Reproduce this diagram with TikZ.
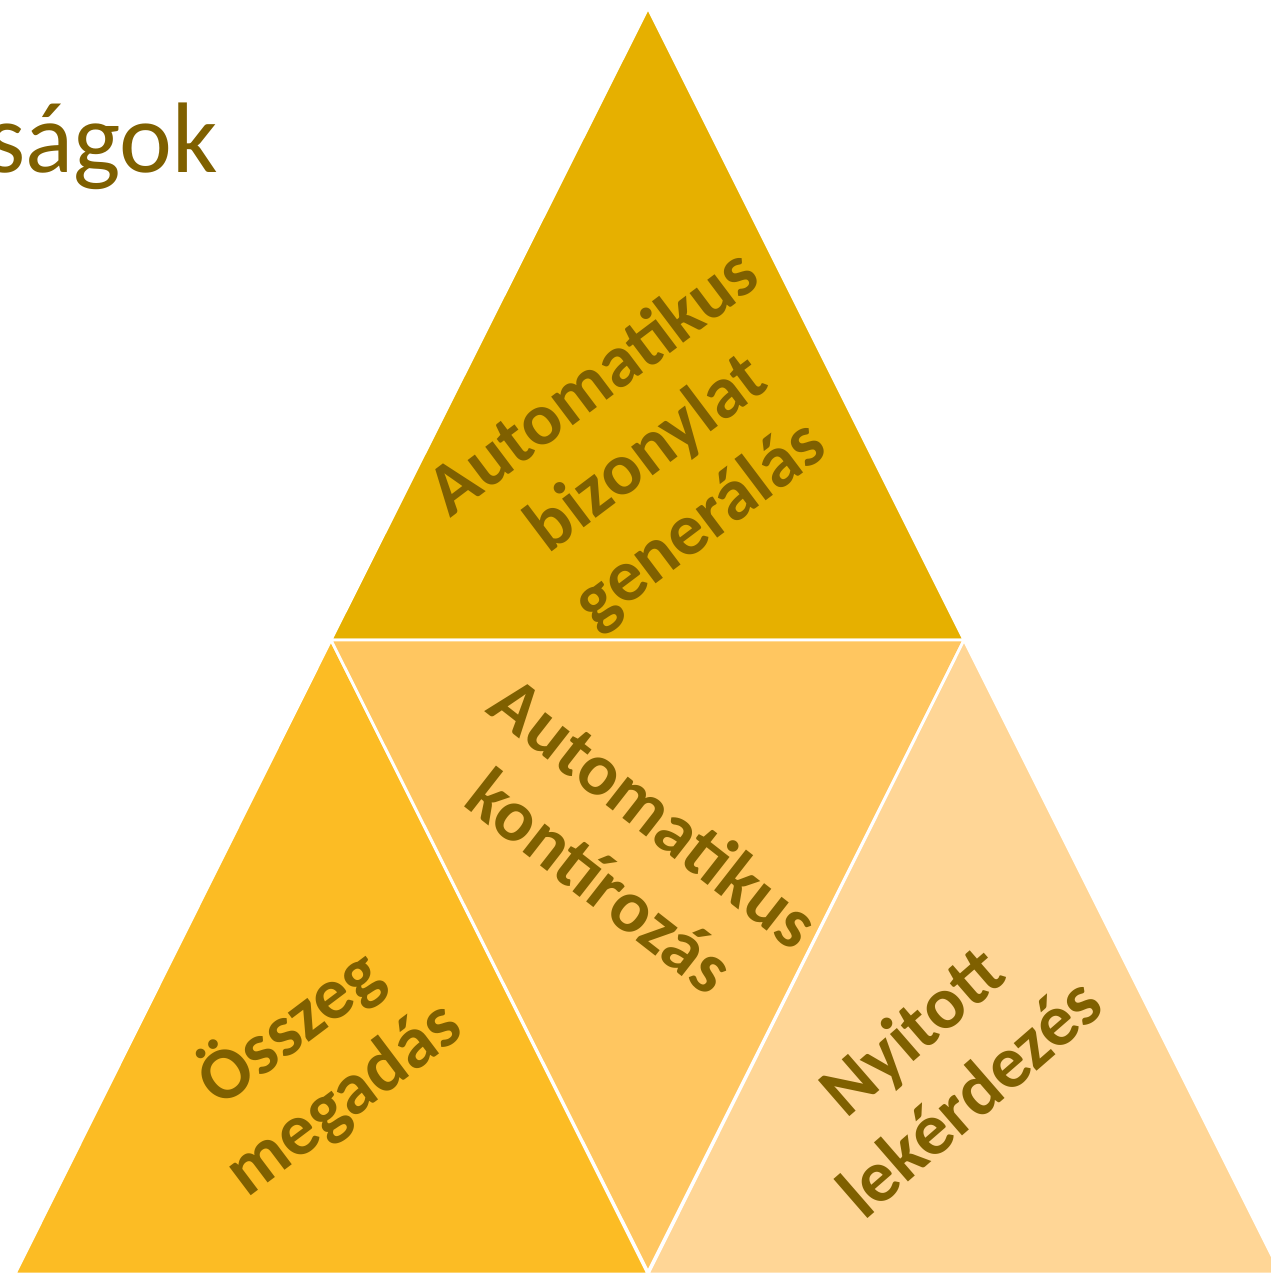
\documentclass[tikz,border=0pt]{standalone}
\usepackage{fontspec}
\setmainfont{Carlito}
\definecolor{olivetext}{HTML}{7F6000}
\definecolor{goldtop}{HTML}{E6B000}
\definecolor{goldleft}{HTML}{FCBC24}
\definecolor{goldmid}{HTML}{FFC660}
\definecolor{goldright}{HTML}{FFD696}
\begin{document}
\begin{tikzpicture}[x=0.01cm,y=-0.01cm,
        tri/.style={draw=white,line width=0.8pt,line join=miter},
        lbl/.style={text=olivetext,font=\bfseries\fontsize{21}{25}\selectfont,align=center,inner sep=0pt}]
        \useasboundingbox (0,0) rectangle (1270,1274);
        % four triangles
        \fill[goldtop,tri] (648,8) -- (331,640) -- (964,640) -- cycle;
        \fill[goldleft,tri] (331,640) -- (15,1274) -- (648,1274) -- cycle;
        \fill[goldmid,tri] (331,640) -- (964,640) -- (648,1272) -- cycle;
        \fill[goldright,tri] (964,640) -- (648,1274) -- (1281,1274) -- cycle;
        % title, cut at the left edge
        \node[anchor=base east,text=olivetext,font=\fontsize{28.5}{34}\selectfont,inner sep=0pt] (title) at (219,173) {ságok};
        % labels
        \node[lbl,rotate=37] (bizonylat) at (648,455) {Automatikus\\bizonylat\\generálás};
        \node[lbl,rotate=-38] (kontir) at (628,846) {Automatikus\\kontírozás};
        \node[lbl,rotate=37] (osszeg) at (316,1062) {Összeg\\megadás};
        \node[lbl,rotate=41] (nyitott) at (940,1063) {Nyitott\\lekérdezés};
    \end{tikzpicture}
\end{document}
